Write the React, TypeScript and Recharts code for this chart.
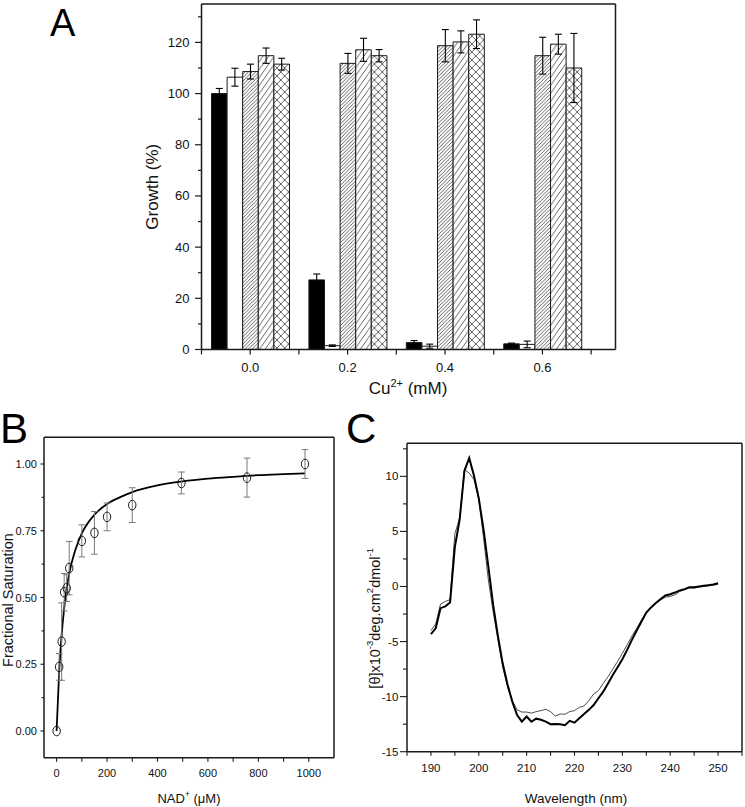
import React from 'react';
import { ComposedChart, LineChart, Bar, ErrorBar, Line, Scatter, XAxis, YAxis } from 'recharts';

const FONT = "'Liberation Sans', Arial, Helvetica, sans-serif";
const INK = '#1a1a1a';

// ---------- Panel A: growth vs Cu2+ ----------
const cuValues = [0.0, 0.2, 0.4, 0.6];
const solidGrowth = [100.0, 27.2, 2.7, 2.2];
const solidErr = [2.0, 2.3, 0.8, 0.3];
const openGrowth = [106.4, 1.5, 1.3, 2.0];
const openErr = [3.5, 0.3, 0.8, 1.3];
const denseGrowth = [108.6, 111.8, 118.7, 114.8];
const denseErr = [2.9, 3.9, 6.3, 7.2];
const sparseGrowth = [114.8, 117.1, 120.2, 119.3];
const sparseErr = [3.0, 4.5, 4.3, 3.9];
const crossGrowth = [111.5, 114.8, 123.2, 110.0];
const crossErr = [2.3, 2.4, 5.6, 13.5];
const growthTicks = [0, 10, 20, 30, 40, 50, 60, 70, 80, 90, 100, 110, 120, 130];
const cuTicks = [-0.1, 0, 0.1, 0.2, 0.3, 0.4, 0.5, 0.6, 0.7];
const aTopTicks = [-0.015, 0.07, 0.155, 0.24, 0.325, 0.41, 0.495, 0.58, 0.665];
const aRightTicks = [13.5, 27, 40.5, 54, 67.5, 81, 94.5, 108, 121.5];

// ---------- Panel B: NAD+ binding ----------
const nadConc = [0, 10, 20, 30, 40, 50, 100, 150, 200, 300, 495, 755, 985];
const fracSat = [0, 0.24, 0.335, 0.52, 0.535, 0.61, 0.712, 0.742, 0.802, 0.846, 0.929, 0.949, 1.0];
const fracErr = [0, 0.05, 0.145, 0.07, 0.05, 0.1, 0.06, 0.08, 0.052, 0.065, 0.041, 0.073, 0.054];
const fitConc = [0, 10, 20, 30, 40, 50, 75, 100, 150, 200, 250, 300, 400, 500, 600, 700, 800, 900, 985];
const fitSat = [0, 0.22, 0.36, 0.46, 0.535, 0.59, 0.68, 0.74, 0.81, 0.85, 0.875, 0.895, 0.92, 0.935, 0.945, 0.952, 0.958, 0.962, 0.965];
const fracTicks = [0, 0.125, 0.25, 0.375, 0.5, 0.625, 0.75, 0.875, 1.0];
const nadTicks = [0, 100, 200, 300, 400, 500, 600, 700, 800, 900, 1000];
const bTopTicks = [65, 180, 295, 410, 525, 640, 755, 870, 985];
const bRightTicks = [0.02, 0.14, 0.26, 0.38, 0.5, 0.62, 0.74, 0.86, 0.98];

// ---------- Panel C: CD spectra ----------
const wavelengths = [190, 191, 192, 193, 194, 195, 196, 197, 198, 199, 200, 201, 202, 203, 204, 205, 206, 207, 208, 209, 210, 211, 212, 213, 214, 215, 216, 217, 218, 219, 220, 221, 222, 223, 224, 225, 226, 227, 228, 229, 230, 231, 232, 233, 234, 235, 236, 237, 238, 239, 240, 241, 242, 243, 244, 245, 246, 247, 248, 249, 250];
const ellipThick = [-4.33, -3.8, -1.97, -1.8, -1.45, 3.6, 6.06, 10.5, 11.67, 10.06, 8.0, 5.15, 1.8, -1.67, -4.5, -7.0, -8.9, -10.45, -11.67, -12.27, -11.8, -12.27, -12.0, -12.1, -12.27, -12.5, -12.48, -12.5, -12.6, -12.2, -12.36, -11.97, -11.58, -11.2, -10.76, -10.15, -9.55, -8.8, -8.03, -7.33, -6.6, -5.76, -4.85, -4.0, -3.18, -2.36, -1.9, -1.5, -1.15, -0.82, -0.7, -0.55, -0.36, -0.24, -0.06, -0.06, 0.0, 0.06, 0.12, 0.18, 0.3];
const ellipThin = [-4.0, -3.4, -1.6, -1.36, -1.2, 4.8, 6.2, 10.6, 10.3, 9.7, 7.9, 4.4, 0.6, -2.3, -4.85, -7.3, -9.1, -10.36, -11.2, -11.4, -11.4, -11.5, -11.36, -11.27, -11.15, -11.36, -11.76, -11.58, -11.6, -11.36, -11.27, -10.97, -10.85, -10.36, -9.76, -9.45, -8.8, -8.2, -7.5, -6.8, -6.06, -5.3, -4.5, -3.8, -3.03, -2.36, -1.9, -1.5, -1.2, -0.97, -0.9, -0.75, -0.45, -0.3, -0.15, -0.15, -0.06, 0.0, 0.06, 0.12, 0.2];
const cdTicks = [-15, -12.5, -10, -7.5, -5, -2.5, 0, 2.5, 5, 7.5, 10, 12.5];
const nmTicks = [185, 190, 195, 200, 205, 210, 215, 220, 225, 230, 235, 240, 245, 250, 255];
const cTopTicks = [192, 199, 206, 213, 220, 227, 234, 241, 248];
const cRightTicks = [-12.2, -9.4, -6.6, -3.8, -1.0, 1.8, 4.6, 7.4, 10.2];

const growthRows = cuValues.map((cu, i) => ({
  cu,
  solid: solidGrowth[i], solidE: solidErr[i],
  open: openGrowth[i], openE: openErr[i],
  dense: denseGrowth[i], denseE: denseErr[i],
  sparse: sparseGrowth[i], sparseE: sparseErr[i],
  cross: crossGrowth[i], crossE: crossErr[i],
}));
const satRows = nadConc.map((x, i) => ({ x, y: fracSat[i], e: fracErr[i] }));
const fitRows = fitConc.map((x, i) => ({ x, y: fitSat[i] }));
const cdRows = wavelengths.map((nm, i) => ({ nm, thick: ellipThick[i], thin: ellipThin[i] }));

const axisStyle = { stroke: INK, strokeWidth: 1.5 };
const tickStyle = { stroke: INK, strokeWidth: 1.2 };

// ---------- custom ticks ----------
const ATickY = (p: any) => {
  const v = p.payload.value;
  const major = v % 20 === 0;
  return (
    <g>
      <line x1={201.5 - (major ? 6.5 : 3.5)} x2={201.5} y1={p.y} y2={p.y} stroke={INK} strokeWidth={1.2} />
      {major && (
        <text x={189.5} y={p.y} textAnchor="end" dominantBaseline="central" fontSize={13} fontFamily={FONT} fill="#111">
          {v}
        </text>
      )}
    </g>
  );
};
const ATickX = (p: any) => {
  const k = Math.round(p.payload.value * 10);
  const lab = k >= 0 && k % 2 === 0;
  return (
    <g>
      <line x1={p.x} x2={p.x} y1={349.5} y2={354.5} stroke={INK} strokeWidth={1.2} />
      {lab && (
        <text x={p.x} y={367} textAnchor="middle" dominantBaseline="central" fontSize={13} fontFamily={FONT} fill="#111">
          {(k / 10).toFixed(1)}
        </text>
      )}
    </g>
  );
};
const BTickY = (p: any) => {
  const v = p.payload.value;
  const major = Math.abs(v * 4 - Math.round(v * 4)) < 1e-6;
  return (
    <g>
      <line x1={44 - (major ? 3.5 : 2.5)} x2={44} y1={p.y} y2={p.y} stroke={INK} strokeWidth={1.1} />
      {major && (
        <text x={37} y={p.y} textAnchor="end" dominantBaseline="central" fontSize={11} fontFamily={FONT} fill="#111">
          {v.toFixed(2)}
        </text>
      )}
    </g>
  );
};
const BTickX = (p: any) => {
  const v = p.payload.value;
  const lab = v % 200 === 0;
  return (
    <g>
      <line x1={p.x} x2={p.x} y1={357.7} y2={361.7} stroke={INK} strokeWidth={1.1} />
      {lab && (
        <text x={p.x} y={373.3} textAnchor="middle" dominantBaseline="central" fontSize={11} fontFamily={FONT} fill="#111">
          {v}
        </text>
      )}
    </g>
  );
};
const CTickY = (p: any) => {
  const v = p.payload.value;
  const major = v % 5 === 0;
  return (
    <g>
      <line x1={67 - (major ? 7 : 4)} x2={67} y1={p.y} y2={p.y} stroke={INK} strokeWidth={1.1} />
      {major && (
        <text x={58.3} y={p.y} textAnchor="end" dominantBaseline="central" fontSize={11.5} fontFamily={FONT} fill="#111">
          {v}
        </text>
      )}
    </g>
  );
};
const CTickX = (p: any) => {
  const v = p.payload.value;
  const lab = v % 10 === 0;
  return (
    <g>
      <line x1={p.x} x2={p.x} y1={351.7} y2={355.7} stroke={INK} strokeWidth={1.1} />
      {lab && (
        <text x={p.x} y={368.3} textAnchor="middle" dominantBaseline="central" fontSize={11.5} fontFamily={FONT} fill="#111">
          {v}
        </text>
      )}
    </g>
  );
};

const OpenCircle = (p: any) => (
  <ellipse cx={p.cx} cy={p.cy} rx={3.7} ry={4.8} fill="none" stroke={INK} strokeWidth={1} />
);

const PanelLetter = ({ x, y, size, children }: any) => (
  <text x={x} y={y} fontSize={size} fontFamily={FONT} fill="#000">
    {children}
  </text>
);

const frameAxisX = (dataKey: string, domain: number[], ticks: number[]) => (
  <XAxis xAxisId="top" dataKey={dataKey} orientation="top" type="number" domain={domain} ticks={ticks} mirror allowDataOverflow interval={0} tick={false} tickSize={5} tickLine={tickStyle} axisLine={axisStyle} />
);
const frameAxisY = (dataKey: string, domain: number[], ticks: number[]) => (
  <YAxis yAxisId="r" dataKey={dataKey} orientation="right" type="number" domain={domain} ticks={ticks} mirror allowDataOverflow interval={0} tick={false} tickSize={5} tickLine={tickStyle} axisLine={axisStyle} />
);

const PanelA = () => (
  <ComposedChart width={745} height={400} data={growthRows} margin={{ top: 4, right: 129.5, bottom: 20.5, left: 141.5 }} barGap={0} barSize={15.6}>
    <defs>
      <pattern id="hatchDense" patternUnits="userSpaceOnUse" width="3.6" height="3.6">
        <rect width="3.6" height="3.6" fill="#fff" />
        <path d="M0,3.6 L3.6,0 M-0.9,0.9 L0.9,-0.9 M2.7,4.5 L4.5,2.7" stroke="#3a3a3a" strokeWidth="0.8" />
      </pattern>
      <pattern id="hatchSparse" patternUnits="userSpaceOnUse" width="5.6" height="8">
        <rect width="5.6" height="8" fill="#fff" />
        <path d="M0,8 L5.6,0 M-1.4,2 L1.4,-2 M4.2,10 L7,6" stroke="#3a3a3a" strokeWidth="0.8" />
      </pattern>
      <pattern id="hatchCross" patternUnits="userSpaceOnUse" width="7.8" height="8">
        <rect width="7.8" height="8" fill="#fff" />
        <path d="M0,0 L7.8,8 M7.8,0 L0,8" stroke="#3a3a3a" strokeWidth="0.8" />
      </pattern>
    </defs>
    <XAxis dataKey="cu" type="number" domain={[-0.1, 0.75]} ticks={cuTicks} allowDataOverflow interval={0} height={30} axisLine={axisStyle} tickLine={false} tick={(p: any) => <ATickX {...p} />} />
    {frameAxisX('cu', [-0.1, 0.75], aTopTicks)}
    <YAxis type="number" domain={[0, 135]} ticks={growthTicks} allowDataOverflow interval={0} width={60} axisLine={axisStyle} tickLine={false} tick={(p: any) => <ATickY {...p} />} />
    {frameAxisY('cross', [0, 135], aRightTicks)}
    <Bar dataKey="solid" fill="#000" stroke={INK} strokeWidth={1} isAnimationActive={false}>
      <ErrorBar dataKey="solidE" direction="y" width={3.5} stroke="#000" strokeWidth={1.1} />
    </Bar>
    <Bar dataKey="open" fill="#fff" stroke={INK} strokeWidth={1} isAnimationActive={false}>
      <ErrorBar dataKey="openE" direction="y" width={3.5} stroke="#000" strokeWidth={1.1} />
    </Bar>
    <Bar dataKey="dense" fill="url(#hatchDense)" stroke={INK} strokeWidth={1} isAnimationActive={false}>
      <ErrorBar dataKey="denseE" direction="y" width={3.5} stroke="#000" strokeWidth={1.1} />
    </Bar>
    <Bar dataKey="sparse" fill="url(#hatchSparse)" stroke={INK} strokeWidth={1} isAnimationActive={false}>
      <ErrorBar dataKey="sparseE" direction="y" width={3.5} stroke="#000" strokeWidth={1.1} />
    </Bar>
    <Bar dataKey="cross" fill="url(#hatchCross)" stroke={INK} strokeWidth={1} isAnimationActive={false}>
      <ErrorBar dataKey="crossE" direction="y" width={3.5} stroke="#000" strokeWidth={1.1} />
    </Bar>
    <text x={152.4} y={186.7} transform="rotate(-90, 152.4, 186.7)" textAnchor="middle" dominantBaseline="central" fontSize={17} fontFamily={FONT} fill="#111">
      Growth (%)
    </text>
    <text x={408} y={394} textAnchor="middle" fontSize={17} fontFamily={FONT} fill="#111">
      Cu<tspan dy={-7} fontSize={11}>2+</tspan><tspan dy={7}> (mM)</tspan>
    </text>
    <PanelLetter x={50} y={36} size={38}>A</PanelLetter>
  </ComposedChart>
);

const PanelB = () => (
  <ComposedChart width={360} height={407} data={satRows} margin={{ top: 37.3, right: 26, bottom: 24.3, left: 4 }}>
    <XAxis dataKey="x" type="number" domain={[-50, 1100]} ticks={nadTicks} allowDataOverflow interval={0} height={25} axisLine={axisStyle} tickLine={false} tick={(p: any) => <BTickX {...p} />} />
    {frameAxisX('x', [-50, 1100], bTopTicks)}
    <YAxis dataKey="y" type="number" domain={[-0.1, 1.1]} ticks={fracTicks} allowDataOverflow interval={0} width={40} axisLine={axisStyle} tickLine={false} tick={(p: any) => <BTickY {...p} />} />
    {frameAxisY('y', [-0.1, 1.1], bRightTicks)}
    <Line data={fitRows} dataKey="y" type="monotone" stroke="#000" strokeWidth={1.8} dot={false} isAnimationActive={false} />
    <Scatter dataKey="y" shape={(p: any) => <OpenCircle {...p} />} isAnimationActive={false}>
      <ErrorBar dataKey="e" direction="y" width={3.3} stroke="#7a7a7a" strokeWidth={1} />
    </Scatter>
    <text x={7.5} y={200} transform="rotate(-90, 7.5, 200)" textAnchor="middle" dominantBaseline="central" fontSize={14.5} fontFamily={FONT} fill="#111">
      Fractional Saturation
    </text>
    <text x={189} y={403} textAnchor="middle" fontSize={13} fontFamily={FONT} fill="#111">
      NAD<tspan dy={-6} fontSize={8.5}>+</tspan><tspan dy={6}> (μM)</tspan>
    </text>
    <PanelLetter x={0} y={43} size={42}>B</PanelLetter>
  </ComposedChart>
);

const PanelC = () => (
  <LineChart width={405} height={407} data={cdRows} margin={{ top: 43.3, right: 3, bottom: 30.3, left: 27 }}>
    <XAxis dataKey="nm" type="number" domain={[185, 255]} ticks={nmTicks} allowDataOverflow interval={0} height={25} axisLine={axisStyle} tickLine={false} tick={(p: any) => <CTickX {...p} />} />
    {frameAxisX('nm', [185, 255], cTopTicks)}
    <YAxis type="number" domain={[-15, 13]} ticks={cdTicks} allowDataOverflow interval={0} width={40} axisLine={axisStyle} tickLine={false} tick={(p: any) => <CTickY {...p} />} />
    {frameAxisY('thick', [-15, 13], cRightTicks)}
    <Line dataKey="thin" type="linear" stroke="#3a3a3a" strokeWidth={0.9} dot={false} isAnimationActive={false} />
    <Line dataKey="thick" type="linear" stroke="#000" strokeWidth={2} dot={false} isAnimationActive={false} />
    <text x={35} y={218.3} transform="rotate(-90, 35, 218.3)" textAnchor="middle" dominantBaseline="central" fontSize={14.5} fontFamily={FONT} fill="#111">
      [θ]x10<tspan dy={-6} fontSize={9.5}>-3</tspan><tspan dy={6}>deg.cm</tspan><tspan dy={-6} fontSize={9.5}>2</tspan><tspan dy={6}>dmol</tspan><tspan dy={-6} fontSize={9.5}>-1</tspan>
    </text>
    <text x={236} y={403} textAnchor="middle" fontSize={13.5} fontFamily={FONT} fill="#111">
      Wavelength (nm)
    </text>
    <PanelLetter x={6} y={43} size={42}>C</PanelLetter>
  </LineChart>
);

export default function App() {
  return (
    <div style={{ position: 'absolute', left: 0, top: 0, width: 745, height: 807, background: '#fff', overflow: 'hidden' }}>
      <div style={{ position: 'absolute', left: 0, top: 0 }}>
        <PanelA />
      </div>
      <div style={{ position: 'absolute', left: 0, top: 400 }}>
        <PanelB />
      </div>
      <div style={{ position: 'absolute', left: 340, top: 400 }}>
        <PanelC />
      </div>
    </div>
  );
}
